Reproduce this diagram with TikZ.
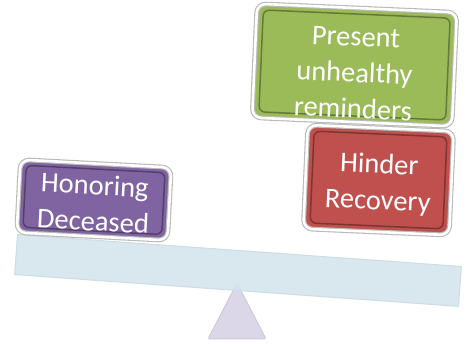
\documentclass[tikz,border=0pt]{standalone}
\usepackage{fontspec}
\setmainfont{Carlito}
\usepackage{tikz}
\usetikzlibrary{positioning}
\definecolor{honorpurple}{HTML}{8064A2}
\definecolor{presentgreen}{HTML}{9BBB59}
\definecolor{hinderred}{HTML}{C0504D}
\definecolor{beamblue}{RGB}{211,229,236}
\definecolor{pivotlilac}{RGB}{220,215,232}
\tikzset{
    panel/.style={
           rectangle,
           rounded corners=9pt,
           fill=#1,
           draw=gray!55, line width=1.1pt,
           double=white, double distance=2.6pt,
           inner sep=0pt,
           },
    bevel/.style={
           rectangle,
           rounded corners=6pt,
           draw=#1!65!black, line width=1.5pt,
           inner sep=0pt,
           },
    caption/.style={
           text=white,
           align=center,
           inner sep=0pt,
           font=\fontsize{28.5}{36}\selectfont,
           },
}

\begin{document}
\begin{tikzpicture}[x=1pt,y=-1pt]
 \useasboundingbox (0,0) rectangle (466,344);

 % pivot below the beam
 \draw[fill=pivotlilac, draw=pivotlilac!85!gray, line width=1pt,
       rounded corners=2pt]
       (237,283) -- (266,339) -- (208,339) -- cycle;

 % the beam, tilted to the right
 \node[rectangle,
 fill=beamblue, fill opacity=0.88,
 draw=beamblue!92!gray, line width=1pt,
 minimum width=445pt, minimum height=40pt,
 rotate=-4.1] (beam) at (238,270.5) {};

 % left side: Honoring Deceased
 \node[panel=honorpurple,
 minimum width=151pt, minimum height=73pt,
 rotate=-3] (honorbox) at (94,200) {};
 \node[bevel=honorpurple,
 minimum width=139pt, minimum height=62pt,
 rotate=-3] (honorbevel) at (honorbox.center) {};
 \node[caption, rotate=-3] (honor) at ([yshift=-3pt]honorbox.center)
 {Honoring\\Deceased};

 % right side, top: Present unhealthy reminders
 \node[panel=presentgreen,
 minimum width=200pt, minimum height=114pt,
 rotate=-2.5] (presentbox) at (354.5,65) {};
 \node[bevel=presentgreen,
 minimum width=187pt, minimum height=102pt,
 rotate=-2.5] (presentbevel) at (presentbox.center) {};
 \node[caption, rotate=-2.5] (present) at ([yshift=-8pt]presentbox.center)
 {Present\\unhealthy\\reminders};

 % right side, bottom: Hinder Recovery
 \node[panel=hinderred,
 minimum width=146pt, minimum height=104pt,
 rotate=-2.5] (hinderbox) at (378.5,180) {};
 \node[bevel=hinderred,
 minimum width=133pt, minimum height=92pt,
 rotate=-2.5] (hinderbevel) at (hinderbox.center) {};
 \node[caption, rotate=-2.5] (hinder) at ([yshift=-4pt]hinderbox.center)
 {Hinder\\Recovery};
\end{tikzpicture}
\end{document}
